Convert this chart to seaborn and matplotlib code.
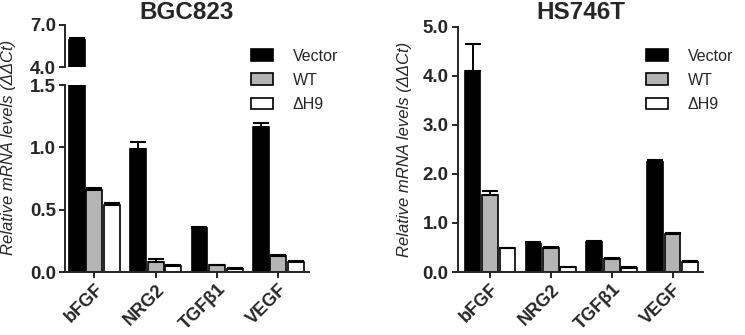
import pandas as pd
import matplotlib.pyplot as plt
import numpy as np
import seaborn as sns

genes = ['bFGF', 'NRG2', 'TGFβ1', 'VEGF']
groups = ['Vector', 'WT', 'ΔH9']
colors = ['#000000', '#b4b4b4', '#ffffff']

# BGC823
bgc_vector = [5.9, 0.99, 0.355, 1.16]
bgc_vector_err = [0.15, 0.05, 0.01, 0.035]
bgc_wt = [0.66, 0.08, 0.054, 0.13]
bgc_wt_err = [0.012, 0.025, 0.006, 0.008]
bgc_dh9 = [0.54, 0.048, 0.027, 0.083]
bgc_dh9_err = [0.01, 0.006, 0.004, 0.007]

# HS746T
hs_vector = [4.1, 0.58, 0.61, 2.25]
hs_vector_err = [0.55, 0.03, 0.02, 0.04]
hs_wt = [1.57, 0.49, 0.26, 0.77]
hs_wt_err = [0.09, 0.02, 0.02, 0.025]
hs_dh9 = [0.48, 0.10, 0.085, 0.2]
hs_dh9_err = [0.015, 0.01, 0.01, 0.015]

sns.set_style('ticks')
plt.rcParams['font.family'] = ['Liberation Sans', 'DejaVu Sans']
plt.rcParams['axes.linewidth'] = 1.4


def make_df(vec, wt, dh9, vec_e, wt_e, dh9_e):
    rows = []
    for g, vals, errs in zip(groups, [vec, wt, dh9], [vec_e, wt_e, dh9_e]):
        for gene, v, e in zip(genes, vals, errs):
            rows.append({'gene': gene, 'group': g, 'value': v, 'err': e})
    return pd.DataFrame(rows)


def draw_bars(ax, df):
    sns.barplot(data=df, x='gene', y='value', hue='group', order=genes,
                hue_order=groups, palette=colors, errorbar=None, width=0.86,
                gap=0.1, edgecolor='black', linewidth=1.2, ax=ax, legend=True)
    # error bars only drawn upward
    for cont, g in zip(ax.containers, groups):
        errs = df[df.group == g].set_index('gene').loc[genes, 'err'].values
        xs = [b.get_x() + b.get_width() / 2 for b in cont]
        ys = [b.get_height() for b in cont]
        ax.errorbar(xs, ys, yerr=[np.zeros(len(errs)), errs], fmt='none',
                    ecolor='black', elinewidth=1.4, capsize=6, capthick=1.5,
                    zorder=3)


def style_ax(ax, xlim):
    ax.set_xlim(*xlim)
    ax.set_xlabel('')
    ax.set_ylabel('')
    sns.despine(ax=ax)
    ax.tick_params(axis='both', width=1.4, length=4.5, labelsize=13.5, pad=2)
    for t in ax.get_yticklabels() + ax.get_xticklabels():
        t.set_fontweight('bold')


fig = plt.figure(figsize=(7.45, 3.35), dpi=100)

bgc = make_df(bgc_vector, bgc_wt, bgc_dh9, bgc_vector_err, bgc_wt_err, bgc_dh9_err)
hs = make_df(hs_vector, hs_wt, hs_dh9, hs_vector_err, hs_wt_err, hs_dh9_err)

# left panel: broken axis
ax_bot = fig.add_axes([0.0872, 0.188, 0.3276, 0.558])
ax_top = fig.add_axes([0.0872, 0.80, 0.3276, 0.1254])
draw_bars(ax_bot, bgc)
draw_bars(ax_top, bgc)
handles, labels = ax_bot.get_legend_handles_labels()
ax_bot.get_legend().remove()
ax_top.get_legend().remove()

ax_bot.set_ylim(0, 1.5)
ax_bot.set_yticks([0, 0.5, 1.0, 1.5])
ax_bot.set_yticklabels(['0.0', '0.5', '1.0', '1.5'])
style_ax(ax_bot, (-0.48, 3.5))
ax_bot.set_xticks(range(len(genes)))
ax_bot.set_xticklabels(genes, rotation=45, ha='right', rotation_mode='anchor',
                       fontweight='bold', fontsize=13)

ax_top.set_ylim(4, 7)
ax_top.set_yticks([4, 7])
ax_top.set_yticklabels(['4.0', '7.0'])
style_ax(ax_top, (-0.48, 3.5))
ax_top.spines['bottom'].set_visible(False)
ax_top.set_xticks([])

# right panel
ax_r = fig.add_axes([0.6144, 0.188, 0.3292, 0.732])
draw_bars(ax_r, hs)
ax_r.get_legend().remove()
ax_r.set_ylim(0, 5)
ax_r.set_yticks([0, 1, 2, 3, 4, 5])
ax_r.set_yticklabels(['0.0', '1.0', '2.0', '3.0', '4.0', '5.0'])
style_ax(ax_r, (-0.53, 3.5))
ax_r.set_xticks(range(len(genes)))
ax_r.set_xticklabels(genes, rotation=45, ha='right', rotation_mode='anchor',
                     fontweight='bold', fontsize=13)

for lx in [0.3365, 0.867]:
    fig.legend(handles, labels, loc='upper left', bbox_to_anchor=(lx, 0.855),
               frameon=False, fontsize=11.5, handlelength=1.38,
               handleheight=0.75, labelspacing=0.58, handletextpad=1.25,
               borderaxespad=0, borderpad=0)

fig.text(0.2506, 0.997, 'BGC823', ha='center', va='top', fontsize=17.5,
         fontweight='bold')
fig.text(0.780, 0.997, 'HS746T', ha='center', va='top', fontsize=17.5,
         fontweight='bold')

ylab = 'Relative mRNA levels (ΔΔCt)'
fig.text(0.0114, 0.56, ylab, rotation=90, ha='center', va='center',
         fontsize=12, style='italic')
fig.text(0.5436, 0.555, ylab, rotation=90, ha='center', va='center',
         fontsize=12, style='italic')

plt.savefig('out.png', dpi=100)
